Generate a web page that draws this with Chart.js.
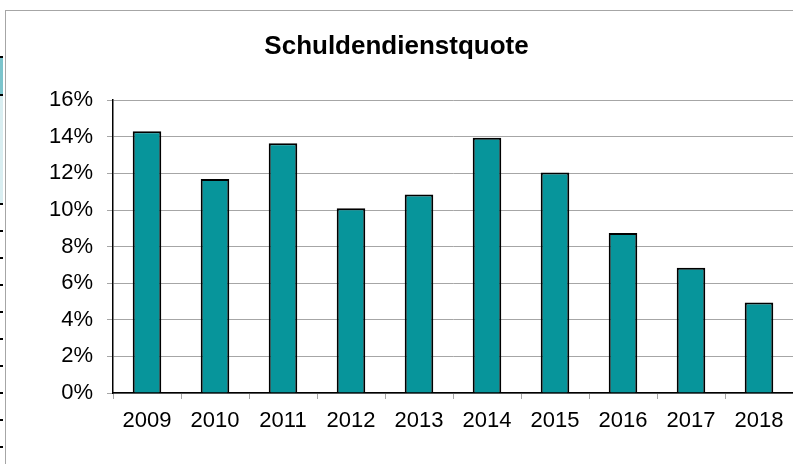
<!DOCTYPE html>
<html>
<head>
<meta charset="utf-8">
<script src="https://cdn.jsdelivr.net/npm/chart.js@4/dist/chart.umd.min.js"></script>
<style>
  html, body { margin: 0; padding: 0; background: #fff; }
  #wrap { position: relative; width: 793px; height: 464px; overflow: hidden; }
  #frame { position: absolute; left: 5px; top: 10px; right: -2px; bottom: -2px;
           border-left: 1px solid #a6a6a6; border-top: 1px solid #a6a6a6; }
  .cell { position: absolute; left: 0; width: 3px; }
  .mark { position: absolute; left: 0; width: 3px; height: 2px; background: #000; }
  canvas { position: absolute; left: 0; top: 0; }
</style>
</head>
<body>
<div id="wrap">
  <!-- spreadsheet leftovers at the left edge -->
  <div class="cell" style="top:57px;height:37px;background:#7cc4cc;"></div>
  <div class="cell" style="top:95px;height:108px;background:#d9eef1;"></div>
  <div id="marks"></div>
  <div id="frame"></div>
  <canvas id="chart" width="793" height="464"></canvas>
</div>
<script>
// data
const years = ['2009', '2010', '2011', '2012', '2013', '2014', '2015', '2016', '2017', '2018'];
const quote = [14.3, 11.7, 13.65, 10.1, 10.85, 13.95, 12.05, 8.75, 6.85, 4.95];
const yTicks = [0, 2, 4, 6, 8, 10, 12, 14, 16];

const markRows = [56, 94, 203, 230, 257, 284, 311, 338, 365, 392, 419, 446];
document.getElementById('marks').innerHTML = markRows
    .map(y => `<div class="mark" style="top:${y}px"></div>`).join('');

const font = 'Liberation Sans, Arial, sans-serif';

new Chart(document.getElementById('chart'), {
    type: 'bar',
    data: {
        labels: years,
        datasets: [{
            data: quote,
            backgroundColor: '#07959b',
            borderColor: '#000',
            borderWidth: 2,
            barPercentage: 0.42,
            categoryPercentage: 1
        }]
    },
    options: {
        responsive: false,
        animation: false,
        layout: { padding: { left: 0, right: 0, top: 0, bottom: 0 } },
        plugins: {
            legend: { display: false },
            tooltip: { enabled: false },
            title: {
                display: true,
                text: 'Schuldendienstquote',
                color: '#000',
                font: { family: font, size: 26, weight: 'bold', lineHeight: 1.2 },
                padding: { top: 31, bottom: 38 }
            }
        },
        scales: {
            x: {
                afterFit: s => { s.height = 71; },
                grid: { offset: true, drawOnChartArea: false, tickLength: 6, color: '#a6a6a6' },
                border: { color: '#000', width: 1.5 },
                ticks: { color: '#000', padding: 9, maxRotation: 0, font: { family: font, size: 22 } }
            },
            y: {
                min: 0,
                max: 16,
                afterFit: s => { s.width = 113; },
                afterBuildTicks: s => { s.ticks = yTicks.map(v => ({ value: v })); },
                grid: { color: '#a6a6a6', tickLength: 6 },
                border: { color: '#000', width: 1.5 },
                ticks: {
                    color: '#000',
                    padding: 14,
                    font: { family: font, size: 22 },
                    callback: v => v + '%'
                }
            }
        }
    }
});
</script>
</body>
</html>
